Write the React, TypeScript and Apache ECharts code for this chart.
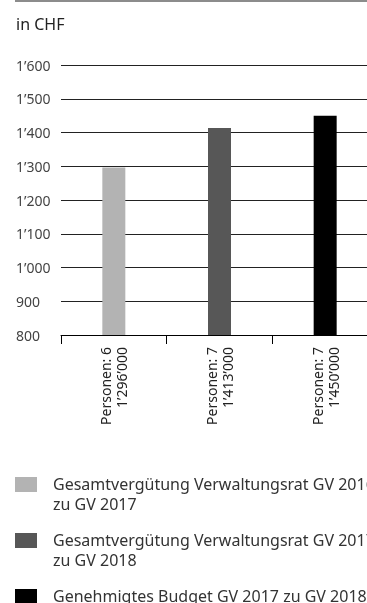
import React, { useEffect, useRef } from "react";
import * as echarts from "echarts";

// ---- data ----
const personCounts = [6, 7, 7];
const amountLabels = ["1’296’000", "1’413’000", "1’450’000"];
const barValues = [1296, 1413, 1450];
const seriesNames = [
  "Gesamtvergütung Verwaltungsrat GV 2016\nzu GV 2017",
  "Gesamtvergütung Verwaltungsrat GV 2017\nzu GV 2018",
  "Genehmigtes Budget GV 2017 zu GV 2018",
];
const yMin = 800;
const yMax = 1600;
const yStep = 100;
const unitLabel = "in CHF";

// ---- styles ----
const barColors = ["#b3b3b3", "#575757", "#000000"];
const FONT = '"Noto Sans", "Open Sans", sans-serif';

const categories = personCounts.map(
  (p, i) => `Personen: ${p}\n${amountLabels[i]}`
);

function fmtThousands(v: number): string {
  const s = String(Math.round(v));
  return s.replace(/\B(?=(\d{3})+(?!\d))/g, "’");
}

export default function App() {
  const ref = useRef<HTMLDivElement>(null);
  useEffect(() => {
    if (!ref.current) return;
    const chart = echarts.init(ref.current, undefined, { renderer: "svg" });

    const legendGraphics: any[] = [];
    seriesNames.forEach((name, i) => {
      const top = 477 + i * 56;
      legendGraphics.push({
        type: "rect",
        shape: { x: 15, y: top, width: 22, height: 15 },
        style: { fill: barColors[i] },
      });
      legendGraphics.push({
        type: "text",
        x: 53,
        y: top - 3,
        style: {
          text: name,
          font: `16px ${FONT}`,
          fill: "#333",
          lineHeight: 20,
          verticalAlign: "top",
          align: "left",
        },
      });
    });

    chart.setOption({
      animation: false,
      grid: {
        left: 61,
        top: 65,
        width: 317,
        height: 270,
        outerBoundsMode: "none",
        containLabel: false,
      },
      xAxis: {
        type: "category",
        data: categories,
        boundaryGap: true,
        axisLine: { show: true, lineStyle: { color: "#000", width: 1 } },
        axisTick: { show: true, length: 9, lineStyle: { color: "#000" } },
        axisLabel: {
          rotate: 90,
          margin: 12,
          color: "#222",
          fontFamily: FONT,
          fontSize: 14,
          lineHeight: 16,
          interval: 0,
        },
      },
      yAxis: {
        type: "value",
        min: yMin,
        max: yMax,
        interval: yStep,
        axisLine: { show: false },
        axisTick: { show: false },
        splitLine: { show: true, lineStyle: { color: "#222", width: 1 } },
        axisLabel: {
          align: "left",
          margin: 45,
          color: "#444",
          fontFamily: FONT,
          fontSize: 14,
          formatter: (v: number) => fmtThousands(v),
        },
      },
      series: seriesNames.map((name, i) => ({
        name,
        type: "bar",
        stack: "total",
        barWidth: 23,
        itemStyle: { color: barColors[i] },
        data: categories.map((_, j) => (j === i ? barValues[i] : "-")),
      })),
      graphic: [
        {
          type: "line",
          shape: { x1: 15, y1: 1, x2: 367, y2: 1 },
          style: { stroke: "#8c8c8c", lineWidth: 2 },
        },
        {
          type: "text",
          x: 16,
          y: 23.5,
          style: {
            text: unitLabel,
            font: `16px ${FONT}`,
            fill: "#222",
            verticalAlign: "middle",
            align: "left",
          },
        },
        ...legendGraphics,
      ],
    });
    return () => chart.dispose();
  }, []);
  return (
    <div
      ref={ref}
      style={{ position: "fixed", left: 0, top: 0, width: 367, height: 603 }}
    />
  );
}
